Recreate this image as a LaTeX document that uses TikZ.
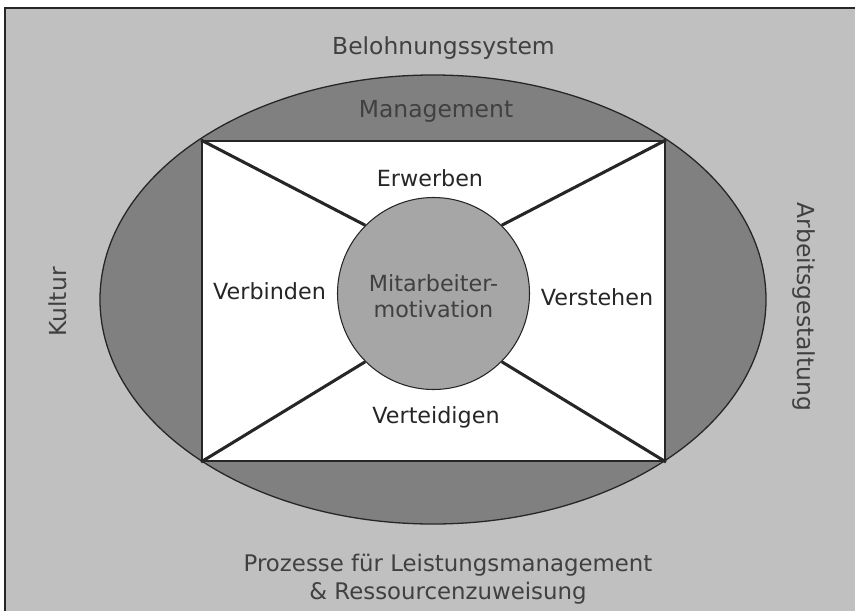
\documentclass[tikz,border=0pt]{standalone}
\usepackage{fontspec}
\setmainfont{DejaVu Sans}
\usepackage{tikz}
\usetikzlibrary{shapes.geometric}
\definecolor{bgGray}{HTML}{C0C0C0}
\definecolor{ringGray}{HTML}{808080}
\definecolor{coreGray}{HTML}{A6A6A6}
\definecolor{inkGray}{HTML}{404040}
\definecolor{lineDark}{HTML}{262626}

\begin{document}
\begin{tikzpicture}[x=0.03cm, y=-0.03cm,
    outer label/.style={text=inkGray, font=\fontsize{20}{24}\selectfont, inner sep=0pt},
    inner label/.style={text=black!85, font=\fontsize{19}{23}\selectfont, inner sep=0pt},
    spoke/.style={draw=lineDark, line width=2.6pt}
]

%%% frame
    \useasboundingbox (0,0) rectangle (855,611);
    \fill[bgGray] (5,8) rectangle (855,611);
    \draw[lineDark, line width=2pt] (5,611) -- (5,8) -- (855,8);

%%% ring, field, core
    \node[ellipse, draw=lineDark, fill=ringGray, line width=1.1pt, minimum width=19.98cm, minimum height=13.47cm, inner sep=0pt] (ring) at (433,299.5) {};
    \node[rectangle, draw=lineDark, fill=white, line width=1.7pt, minimum width=13.89cm, minimum height=9.6cm, inner sep=0pt] (quad) at (433.5,301) {};
    \node[circle, draw=lineDark, fill=coreGray, line width=0.9pt, minimum size=5.76cm, inner sep=0pt] (motiv) at (433.5,293.5) {};
    \node[align=center, text=inkGray, font=\fontsize{19}{22}\selectfont, inner sep=0pt] (motivtext) at (433.5,296.5) {Mitarbeiter-\\motivation};

    \draw[spoke] (quad.north west) -- (motiv.135);
    \draw[spoke] (quad.north east) -- (motiv.45);
    \draw[spoke] (quad.south west) -- (motiv.225);
    \draw[spoke] (quad.south east) -- (motiv.315);

%%% labels
    \node[outer label] (reward) at (443.5,48) {Belohnungssystem};
    \node[outer label] (mgmt) at (436,111) {Management};
    \node[inner label] (acquire) at (430,178) {Erwerben};
    \node[inner label] (bond) at (269.5,291) {Verbinden};
    \node[inner label] (comprehend) at (597,297) {Verstehen};
    \node[inner label] (defend) at (436,417) {Verteidigen};
    \node[outer label, rotate=90] (culture) at (58,302) {Kultur};
    \node[outer label, rotate=-90] (jobdesign) at (804,307) {Arbeitsgestaltung};
    \node[outer label, align=center, font=\fontsize{19.5}{24}\selectfont] (process) at (448,579) {Prozesse für Leistungsmanagement\\\& Ressourcenzuweisung};

\end{tikzpicture}
\end{document}
